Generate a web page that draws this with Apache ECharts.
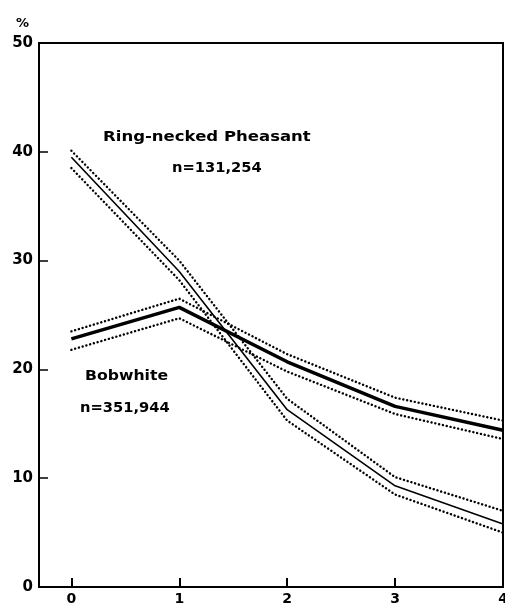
<!DOCTYPE html>
<html><head><meta charset="utf-8">
<script src="https://cdn.jsdelivr.net/npm/echarts@6/dist/echarts.min.js"></script>
<style>html,body{margin:0;padding:0;background:#fff}#c{width:505px;height:609px}</style>
</head><body><div id="c"></div>
<script>
var xValues = [0, 1, 2, 3, 4];
var yTicks = [0, 10, 20, 30, 40, 50];
var pheasant = [39.5, 29.0, 16.3, 9.3, 5.8];
var pheasantUpper = [40.1, 30.0, 17.3, 10.1, 7.0];
var pheasantLower = [38.5, 28.2, 15.3, 8.5, 5.0];
var bobwhite = [22.8, 25.7, 20.7, 16.6, 14.4];
var bobwhiteUpper = [23.5, 26.5, 21.4, 17.4, 15.3];
var bobwhiteLower = [21.8, 24.7, 19.8, 15.9, 13.6];
var labelPheasant = ['Ring-necked Pheasant', 'n=131,254'];
var labelBobwhite = ['Bobwhite', 'n=351,944'];

function pts(arr){ return xValues.map(function(x,i){ return [x, arr[i]]; }); }
var font = 'DejaVu Sans';
var chart = echarts.init(document.getElementById('c'), null, {renderer:'canvas'});
var dotted = {color:'#000', width:2.4, type:[0.1,3.8], cap:'round'};
function label(text, x, y, sx){
  return {type:'text', x:x, y:y, scaleX:sx, style:{text:text, fill:'#000', font:'bold 14px "DejaVu Sans"', align:'left', verticalAlign:'top'}};
}
chart.setOption({
  animation:false,
  backgroundColor:'#fff',
  grid:{left:39, right:2, top:43, bottom:22, show:true, borderColor:'#000', borderWidth:2, outerBoundsMode:'none', containLabel:false},
  xAxis:{type:'value', min:-0.3, max:4,
    axisLine:{show:true, onZero:false, lineStyle:{color:'#000', width:2}},
    axisTick:{show:true, inside:true, length:9, lineStyle:{color:'#000', width:2}, customValues:xValues},
    axisLabel:{color:'#000', fontFamily:font, fontWeight:'bold', fontSize:14, margin:5, customValues:xValues, showMaxLabel:true},
    splitLine:{show:false}},
  yAxis:{type:'value', min:0, max:50, interval:10,
    name:'%', nameLocation:'end', nameGap:13,
    nameTextStyle:{color:'#000', fontFamily:font, fontWeight:'bold', fontSize:13, align:'right', padding:[0,10,0,0]},
    axisLine:{show:true, onZero:false, lineStyle:{color:'#000', width:2}},
    axisTick:{show:true, inside:true, length:9, lineStyle:{color:'#000', width:1.5}},
    axisLabel:{color:'#000', fontFamily:font, fontWeight:'bold', fontSize:15, margin:6},
    splitLine:{show:false}},
  series:[
    {type:'line', data:pts(pheasant), symbol:'none', lineStyle:{color:'#000', width:1.6}},
    {type:'line', data:pts(pheasantUpper), symbol:'none', lineStyle:dotted},
    {type:'line', data:pts(pheasantLower), symbol:'none', lineStyle:dotted},
    {type:'line', data:pts(bobwhite), symbol:'none', lineStyle:{color:'#000', width:3.5}},
    {type:'line', data:pts(bobwhiteUpper), symbol:'none', lineStyle:dotted},
    {type:'line', data:pts(bobwhiteLower), symbol:'none', lineStyle:dotted}
  ],
  graphic:[
    label(labelPheasant[0], 103, 130, 1.18),
    label(labelPheasant[1], 172, 161, 1.05),
    label(labelBobwhite[0], 85, 369, 1.12),
    label(labelBobwhite[1], 80, 401, 1.05)
  ]
});
</script></body></html>
